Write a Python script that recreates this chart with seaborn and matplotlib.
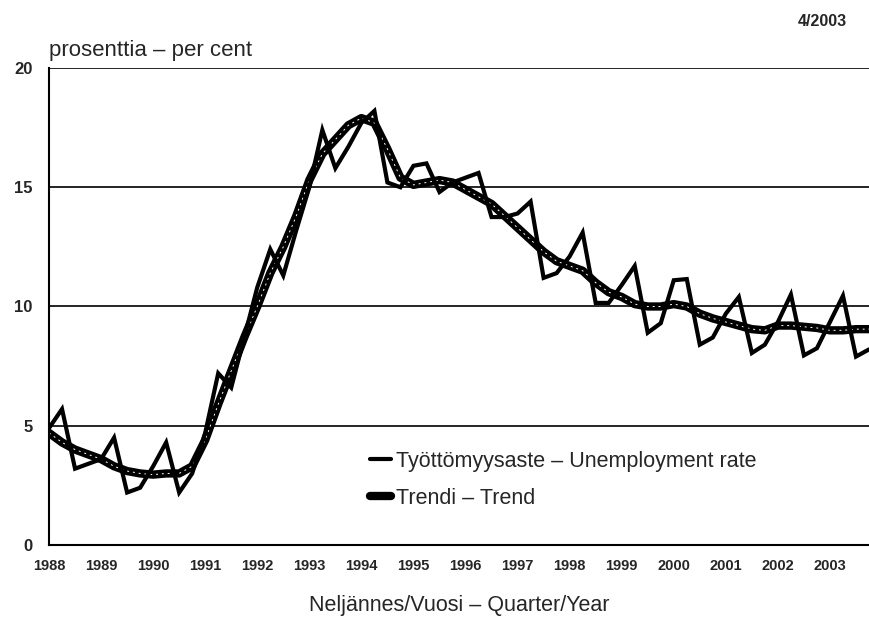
import numpy as np
import pandas as pd
import seaborn as sns
import matplotlib.pyplot as plt
from matplotlib.lines import Line2D

# ------------------------------------------------
# data: quarterly, 1988Q1 .. 2003Q4
# ------------------------------------------------
years = list(range(1988, 2004))
quarters = [f"{y}Q{q}" for y in years for q in range(1, 5)]

unemployment = [
    4.9, 5.7, 3.2, 3.4,     # 1988
    3.6, 4.5, 2.2, 2.4,     # 1989
    3.3, 4.3, 2.2, 3.0,     # 1990
    4.7, 7.2, 6.6, 8.7,     # 1991
    10.8, 12.4, 11.3, 13.2, # 1992
    15.0, 17.4, 15.8, 16.7, # 1993
    17.7, 18.2, 15.2, 15.0, # 1994
    15.9, 16.0, 14.8, 15.2, # 1995
    15.4, 15.6, 13.75, 13.75, # 1996
    13.9, 14.4, 11.2, 11.4, # 1997
    12.1, 13.1, 10.15, 10.15, # 1998
    10.9, 11.7, 8.9, 9.3,   # 1999
    11.1, 11.15, 8.4, 8.7,  # 2000
    9.7, 10.4, 8.05, 8.4,   # 2001
    9.35, 10.5, 7.95, 8.25, # 2002
    9.35, 10.45, 7.9, 8.2,  # 2003
]

trend = [
    4.7, 4.3, 4.0, 3.8,
    3.6, 3.3, 3.1, 3.0,
    2.95, 3.0, 3.0, 3.3,
    4.4, 5.9, 7.3, 8.7,
    10.0, 11.4, 12.5, 13.8,
    15.3, 16.4, 17.0, 17.6,
    17.9, 17.7, 16.6, 15.4,
    15.1, 15.2, 15.3, 15.2,
    14.9, 14.6, 14.3, 13.8,
    13.3, 12.8, 12.3, 11.9,
    11.7, 11.5, 11.0, 10.6,
    10.4, 10.1, 10.0, 10.0,
    10.1, 10.0, 9.7, 9.5,
    9.35, 9.2, 9.05, 9.0,
    9.2, 9.2, 9.15, 9.1,
    9.0, 9.0, 9.05, 9.05,
]

df = pd.DataFrame({
    "idx": np.arange(len(quarters)),
    "Quarter": quarters,
    "Unemployment": unemployment,
    "Trend": trend,
})

# ------------------------------------------------
# style
# ------------------------------------------------
sns.set_style("white")
plt.rcParams["font.family"] = ["Liberation Sans Narrow", "Liberation Sans", "DejaVu Sans"]

fig = plt.figure(figsize=(8.69, 6.21), dpi=100)
ax = fig.add_axes([0.0564, 0.1224, 0.9436, 0.7681])

# trend: thick black with a thin white dotted core
sns.lineplot(data=df, x="idx", y="Trend", ax=ax, color="black", lw=6,
             solid_capstyle="round", solid_joinstyle="round")
ax.plot(df["idx"], df["Trend"], color="white", lw=0.7, ls=(0, (2, 4)))
sns.lineplot(data=df, x="idx", y="Unemployment", ax=ax, color="black", lw=3,
             solid_joinstyle="miter")

ax.set_xlim(0, len(quarters) - 1)
ax.set_ylim(0, 20)
ax.set_yticks([0, 5, 10, 15, 20])
ax.yaxis.grid(True, color="black", lw=1.2)
ax.xaxis.grid(False)

ax.set_xticks(np.arange(0, len(quarters), 4))
ax.set_xticklabels([str(y) for y in years], fontsize=10.5, fontweight="bold")
ax.set_xticks(np.arange(0, len(quarters)), minor=True)
ax.tick_params(axis="x", which="major", direction="in", length=8, width=1.2,
               color="black", pad=10)
ax.tick_params(axis="x", which="minor", direction="in", length=4, width=1,
               color="black")
ax.tick_params(axis="y", length=0, pad=12, labelsize=12)
for lab in ax.get_yticklabels():
    lab.set_fontweight("bold")

for side in ["top", "right"]:
    ax.spines[side].set_visible(False)
for side in ["left", "bottom"]:
    ax.spines[side].set_color("black")
    ax.spines[side].set_linewidth(1.5)

ax.set_xlabel("Neljännes/Vuosi – Quarter/Year", fontsize=15.5, labelpad=16)
ax.set_ylabel("")

fig.text(0.0564, 0.918, "prosenttia – per cent", fontsize=16, ha="left", va="center")
fig.text(0.975, 0.965, "4/2003", fontsize=11.5, fontweight="bold", ha="right", va="center")

handles = [
    Line2D([0], [0], color="black", lw=3),
    Line2D([0], [0], color="black", lw=6),
]
ax.legend(handles, ["Työttömyysaste – Unemployment rate", "Trendi – Trend"],
          loc="upper left", bbox_to_anchor=(0.378, 0.22), frameon=False,
          fontsize=15.5, handlelength=1.0, handletextpad=0.2, labelspacing=0.75,
          borderpad=0)

plt.savefig("out.png", dpi=100)
plt.close()
